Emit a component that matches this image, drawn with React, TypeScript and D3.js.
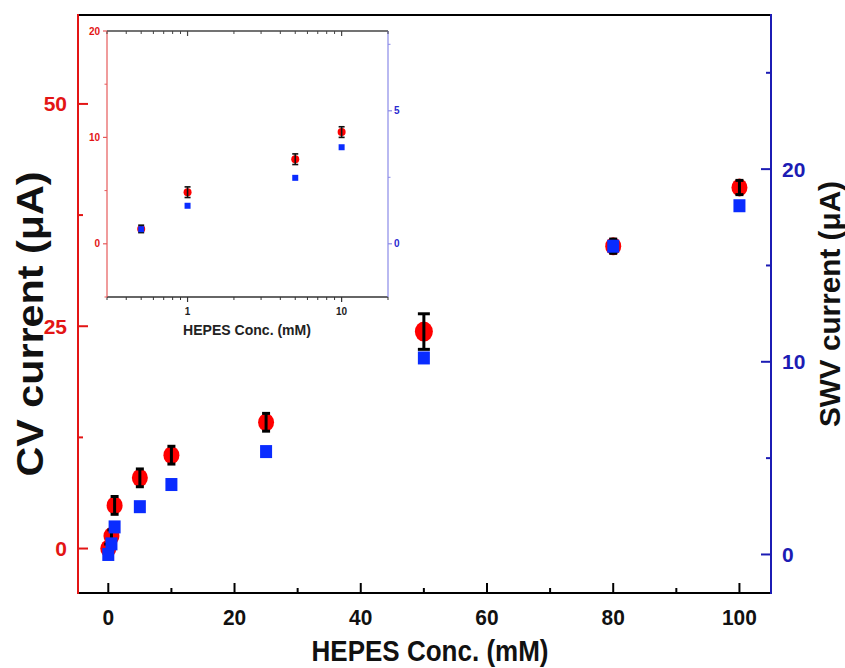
import React from "react";
import * as d3 from "d3";

// ---- data ----
const conc = [0, 0.5, 1, 5, 10, 25, 50, 80, 100];
const cvCurrent = [0.0, 1.4, 4.85, 7.95, 10.5, 14.2, 24.4, 34.0, 40.6];
const cvError = [0.5, 0.7, 1.0, 1.0, 1.0, 1.0, 2.0, 0.8, 0.8];
const swvCurrent = [0.0, 0.55, 1.43, 2.48, 3.63, 5.34, 10.2, 16.0, 18.1];

const xTicks = [0, 20, 40, 60, 80, 100];
const xMinor = [10, 30, 50, 70, 90];
const yLeftTicks = [0, 25, 50];
const yLeftMinor = [12.5, 37.5];
const yRightTicks = [0, 10, 20];
const yRightMinor = [5, 15, 25];

const insetConc = [0.5, 1, 5, 10];
const insetXTicks = [1, 10];
const insetXMinor = [0.3, 0.4, 0.5, 0.6, 0.7, 0.8, 0.9, 2, 3, 4, 5, 6, 7, 8, 9, 20];
const insetYLeftTicks = [0, 10, 20];
const insetYLeftMinor = [-5, 5, 15];
const insetYRightTicks = [0, 5];
const insetYRightMinor = [2.5, 7.5];

const FONT = "'Liberation Sans', Arial, sans-serif";
const RED = "#ff0000";
const AXRED = "#e31515";
const BLUE = "#0a2cff";
const AXBLUE = "#1c1cb4";

export default function App() {
  // main scales
  const L = 78, R = 771, T = 15, B = 593;
  const x = d3.scaleLinear().domain([-4.8, 105]).range([L, R]);
  const yL = d3.scaleLinear().domain([-5, 60]).range([B, T]);
  const yR = d3.scaleLinear().domain([-2, 28]).range([B, T]);

  // inset scales
  const iL = 107, iR = 388, iT = 31, iB = 297;
  const ix = d3.scaleLog().domain([0.3, 20]).range([iL, iR]);
  const iyL = d3.scaleLinear().domain([-5, 20]).range([iB, iT]);
  const iyR = d3.scaleLinear().domain([-2, 8]).range([iB, iT]);

  const idx = conc.map((_, i) => i);
  const insetIdx = insetConc.map((c) => conc.indexOf(c));

  return (
    <svg
      width={845}
      height={668}
      style={{ position: "absolute", left: 0, top: 0, background: "#fff" }}
      fontFamily={FONT}
    >
      <rect x={0} y={0} width={845} height={668} fill="#fff" />

      {/* ===== main axes ===== */}
      <line x1={L} x2={R} y1={T} y2={T} stroke="#000" strokeWidth={2} />
      <line x1={L} x2={R + 1} y1={B} y2={B} stroke="#000" strokeWidth={2} />
      <line x1={L} x2={L} y1={T - 1} y2={B + 1} stroke={AXRED} strokeWidth={2} />
      <line x1={R} x2={R} y1={T - 1} y2={B + 1} stroke={AXBLUE} strokeWidth={2} />

      {/* x ticks */}
      {xTicks.map((t) => (
        <g key={"xt" + t}>
          <line x1={x(t)} x2={x(t)} y1={B} y2={B - 10} stroke="#000" strokeWidth={2} />
          <text
            x={x(t)}
            y={625}
            textAnchor="middle"
            fontSize={22}
            fontWeight="bold"
            fill="#111"
            transform={`translate(${x(t)},625) scale(0.95,1) translate(${-x(t)},-625)`}
          >
            {t}
          </text>
        </g>
      ))}
      {xMinor.map((t) => (
        <line key={"xm" + t} x1={x(t)} x2={x(t)} y1={B} y2={B - 5} stroke="#000" strokeWidth={2} />
      ))}

      {/* left ticks */}
      {yLeftTicks.map((t) => (
        <g key={"yl" + t}>
          <line x1={L} x2={L + 10} y1={yL(t)} y2={yL(t)} stroke={AXRED} strokeWidth={2} />
          <text x={67} y={yL(t) + 7.5} textAnchor="end" fontSize={21} fontWeight="bold" fill={AXRED}>
            {t}
          </text>
        </g>
      ))}
      {yLeftMinor.map((t) => (
        <line key={"ylm" + t} x1={L} x2={L + 5} y1={yL(t)} y2={yL(t)} stroke={AXRED} strokeWidth={2} />
      ))}

      {/* right ticks */}
      {yRightTicks.map((t) => (
        <g key={"yr" + t}>
          <line x1={R} x2={R - 10} y1={yR(t)} y2={yR(t)} stroke={AXBLUE} strokeWidth={2} />
          <text x={782} y={yR(t) + 7.5} textAnchor="start" fontSize={21} fontWeight="bold" fill={AXBLUE}>
            {t}
          </text>
        </g>
      ))}
      {yRightMinor.map((t) => (
        <line key={"yrm" + t} x1={R} x2={R - 5} y1={yR(t)} y2={yR(t)} stroke={AXBLUE} strokeWidth={2} />
      ))}

      {/* axis titles */}
      <text
        x={430}
        y={661}
        textAnchor="middle"
        fontSize={29}
        fontWeight="bold"
        fill="#111"
        textLength={237}
        lengthAdjust="spacingAndGlyphs"
      >
        HEPES Conc. (mM)
      </text>
      <text
        transform={`translate(43,324) rotate(-90)`}
        textAnchor="middle"
        fontSize={37}
        fontWeight="bold"
        fill="#111"
        textLength={305}
        lengthAdjust="spacingAndGlyphs"
      >
        CV current (μA)
      </text>
      <text
        transform={`translate(840,304) rotate(-90)`}
        textAnchor="middle"
        fontSize={30}
        fontWeight="bold"
        fill="#111"
        textLength={246}
        lengthAdjust="spacingAndGlyphs"
      >
        SWV current (μA)
      </text>

      {/* main data: circles, error bars, squares */}
      {idx.map((i) => (
        <ellipse
          key={"c" + i}
          cx={x(conc[i])}
          cy={yL(cvCurrent[i])}
          rx={conc[i] === 50 ? 9 : 8}
          ry={conc[i] === 50 ? 10 : 9}
          fill={RED}
        />
      ))}
      {idx.map((i) => {
        const cx = x(conc[i]);
        const y1 = yL(cvCurrent[i] + cvError[i]);
        const y2 = yL(cvCurrent[i] - cvError[i]);
        const cw = conc[i] === 50 ? 6 : 4;
        return (
          <g key={"e" + i} stroke="#000" strokeWidth={3}>
            <line x1={cx} x2={cx} y1={y1} y2={y2} />
            <line x1={cx - cw} x2={cx + cw} y1={y1} y2={y1} />
            <line x1={cx - cw} x2={cx + cw} y1={y2} y2={y2} />
          </g>
        );
      })}
      {idx.map((i) => (
        <rect
          key={"s" + i}
          x={x(conc[i]) - 6}
          y={yR(swvCurrent[i]) - 6.5}
          width={12}
          height={13}
          fill={BLUE}
        />
      ))}

      {/* ===== inset ===== */}
      <rect x={iL} y={iT} width={iR - iL} height={iB - iT} fill="#fff" />
      <line x1={iL} x2={iR} y1={iT} y2={iT} stroke="#444" strokeWidth={1.5} />
      <line x1={iL} x2={iR} y1={iB} y2={iB} stroke="#333" strokeWidth={1.5} />
      <line x1={iL} x2={iL} y1={iT} y2={iB} stroke="#e65a5a" strokeWidth={1.2} />
      <line x1={iR} x2={iR} y1={iT} y2={iB} stroke="#8a8ae8" strokeWidth={1.2} />

      {insetXTicks.map((t) => (
        <g key={"ixt" + t}>
          <line x1={ix(t)} x2={ix(t)} y1={iB} y2={iB + 5} stroke="#333" strokeWidth={1.2} />
          <line x1={ix(t)} x2={ix(t)} y1={iT} y2={iT + 5} stroke="#444" strokeWidth={1.2} />
          <text x={ix(t)} y={315} textAnchor="middle" fontSize={10} fontWeight="bold" fill="#222">
            {t}
          </text>
        </g>
      ))}
      {insetXMinor.map((t) => (
        <g key={"ixm" + t}>
          <line x1={ix(t)} x2={ix(t)} y1={iB} y2={iB + 3} stroke="#333" strokeWidth={1} />
          <line x1={ix(t)} x2={ix(t)} y1={iT} y2={iT + 3} stroke="#444" strokeWidth={1} />
        </g>
      ))}
      {insetYLeftTicks.map((t) => (
        <g key={"iyl" + t}>
          <line x1={iL} x2={iL - 4} y1={iyL(t)} y2={iyL(t)} stroke="#e65a5a" strokeWidth={1.2} />
          <text x={100} y={iyL(t) + 3.5} textAnchor="end" fontSize={10} fontWeight="bold" fill={AXRED}>
            {t}
          </text>
        </g>
      ))}
      {insetYLeftMinor.map((t) => (
        <line key={"iylm" + t} x1={iL} x2={iL - 2.5} y1={iyL(t)} y2={iyL(t)} stroke="#e65a5a" strokeWidth={1} />
      ))}
      {insetYRightTicks.map((t) => (
        <g key={"iyr" + t}>
          <line x1={iR} x2={iR + 4} y1={iyR(t)} y2={iyR(t)} stroke="#8a8ae8" strokeWidth={1.2} />
          <text x={394} y={iyR(t) + 3.5} textAnchor="start" fontSize={10} fontWeight="bold" fill="#2a2ad0">
            {t}
          </text>
        </g>
      ))}
      {insetYRightMinor.map((t) => (
        <line key={"iyrm" + t} x1={iR} x2={iR + 2.5} y1={iyR(t)} y2={iyR(t)} stroke="#8a8ae8" strokeWidth={1} />
      ))}
      <text
        x={247}
        y={335}
        textAnchor="middle"
        fontSize={14}
        fontWeight="bold"
        fill="#222"
        textLength={128}
        lengthAdjust="spacingAndGlyphs"
      >
        HEPES Conc. (mM)
      </text>

      {insetIdx.map((i) => (
        <circle key={"ic" + i} cx={ix(conc[i])} cy={iyL(cvCurrent[i])} r={4} fill={RED} />
      ))}
      {insetIdx.map((i) => {
        const cx = ix(conc[i]);
        const y1 = iyL(cvCurrent[i] + cvError[i] * 0.5);
        const y2 = iyL(cvCurrent[i] - cvError[i] * 0.5);
        return (
          <g key={"ie" + i} stroke="#111" strokeWidth={1.6}>
            <line x1={cx} x2={cx} y1={y1} y2={y2} />
            <line x1={cx - 3} x2={cx + 3} y1={y1} y2={y1} />
            <line x1={cx - 3} x2={cx + 3} y1={y2} y2={y2} />
          </g>
        );
      })}
      {insetIdx.map((i) => (
        <rect
          key={"is" + i}
          x={ix(conc[i]) - 3}
          y={iyR(swvCurrent[i]) - 3}
          width={6}
          height={6}
          fill={BLUE}
        />
      ))}
    </svg>
  );
}
